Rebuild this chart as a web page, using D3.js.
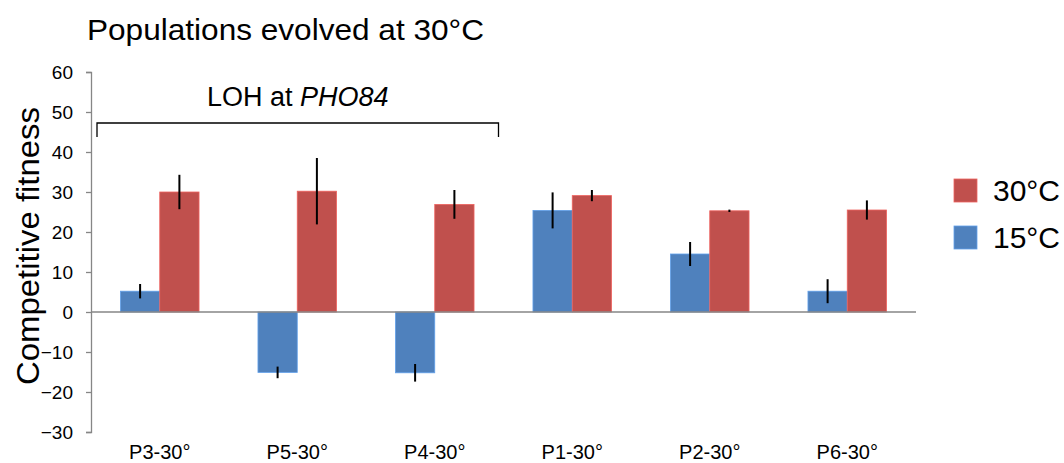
<!DOCTYPE html>
<html><head><meta charset="utf-8">
<script src="https://cdn.jsdelivr.net/npm/d3@7"></script>
<style>body{margin:0;background:#fff;} text{font-family:"Liberation Sans",Arial,sans-serif;fill:#000;}</style>
</head><body>
<svg id="c" width="1064" height="463"></svg>
<script>
const categories = ["P3-30°","P5-30°","P4-30°","P1-30°","P2-30°","P6-30°"];
const series = ["15°C","30°C"];
const values15 = [5.2,-15.1,-15.2,25.4,14.5,5.2];
const errors15 = [1.8,1.45,2.2,4.5,3.0,3.0];
const values30 = [30.0,30.2,26.9,29.1,25.3,25.5];
const errors30 = [4.3,8.3,3.6,1.4,0.3,2.4];
const yTicks = [-30,-20,-10,0,10,20,30,40,50,60];
const colors = {"15°C":"#4F81BD","30°C":"#C0504D"};

(function(){
const svg = d3.select("#c");
const pl = 91, pr = 916, pt = 72, pb = 432;
const y = d3.scaleLinear().domain([-30,60]).range([pb, pt]);
const x0 = d3.scaleBand().domain(categories).range([pl, pr]).paddingInner(1.5/3.5).paddingOuter(0.75/3.5);
const x1 = d3.scaleBand().domain(series).range([0, x0.bandwidth()]);
const step = x0.step();

const data = categories.map((c,i)=>({c, vals:[
  {s:"15°C", v:values15[i], e:errors15[i]},
  {s:"30°C", v:values30[i], e:errors30[i]}]}));

// y axis
const yAxis = d3.axisLeft(y).tickValues(yTicks).tickSize(5).tickPadding(13);
const ga = svg.append("g").attr("transform",`translate(${pl},0)`).call(yAxis);
ga.select(".domain").attr("stroke","#868686").attr("stroke-width",1.3);
ga.selectAll(".tick line").attr("stroke","#868686").attr("stroke-width",1.3);
ga.selectAll(".tick text").style("font-size","19px").attr("fill","#000");

// bars
const g = svg.append("g");
const grp = g.selectAll("g.grp").data(data).join("g").attr("transform",d=>`translate(${x0(d.c)},0)`);
grp.selectAll("rect").data(d=>d.vals).join("rect")
  .attr("x",d=>x1(d.s)).attr("width",x1.bandwidth())
  .attr("y",d=>y(Math.max(0,d.v))).attr("height",d=>Math.abs(y(d.v)-y(0)))
  .attr("fill",d=>colors[d.s]).attr("stroke",d=>d3.color(colors[d.s]).brighter(0.6)).attr("stroke-width",0.8);

// x axis line
svg.append("line").attr("x1",pl).attr("x2",pr).attr("y1",y(0)).attr("y2",y(0))
  .attr("stroke","#868686").attr("stroke-width",1.5);

// error bars
grp.selectAll("line.err").data(d=>d.vals).join("line").attr("class","err")
  .attr("x1",d=>x1(d.s)+x1.bandwidth()/2).attr("x2",d=>x1(d.s)+x1.bandwidth()/2)
  .attr("y1",d=>y(d.v+d.e)).attr("y2",d=>y(d.v-d.e))
  .attr("stroke","#000").attr("stroke-width",2);

// x labels
svg.selectAll("text.xl").data(categories).join("text").attr("class","xl")
  .attr("x",d=>x0(d)+x0.bandwidth()/2).attr("y",459).attr("text-anchor","middle")
  .style("font-size","20px").text(d=>d);

// title
svg.append("text").attr("x",87).attr("y",40).style("font-size","30px")
  .attr("textLength",397).attr("lengthAdjust","spacingAndGlyphs").text("Populations evolved at 30°C");

// y label
svg.append("text").attr("transform",`translate(39,${(107+385)/2}) rotate(-90)`).attr("text-anchor","middle")
  .style("font-size","31px").attr("textLength",278).attr("lengthAdjust","spacingAndGlyphs").text("Competitive fitness");

// bracket
const bx0 = pl + 6, bx1 = pl + 3*step - 5;
svg.append("path").attr("d",`M${bx0},137V123H${bx1}V137`).attr("fill","none").attr("stroke","#000").attr("stroke-width",1.3);
const lt = svg.append("text").attr("x",(bx0+bx1)/2).attr("y",106).attr("text-anchor","middle").style("font-size","27px");
lt.append("tspan").text("LOH at ");
lt.append("tspan").style("font-style","italic").text("PHO84");

// legend
const leg = svg.append("g");
const legItems = ["30°C","15°C"];
legItems.forEach((s,i)=>{
  const yy = 179 + i*47;
  leg.append("rect").attr("x",954).attr("y",yy).attr("width",23).attr("height",23)
    .attr("fill",colors[s]).attr("stroke",d3.color(colors[s]).brighter(0.6)).attr("stroke-width",0.8);
  leg.append("text").attr("x",993).attr("y",yy+22).style("font-size","30px").text(s);
});
})();
</script>
</body></html>
